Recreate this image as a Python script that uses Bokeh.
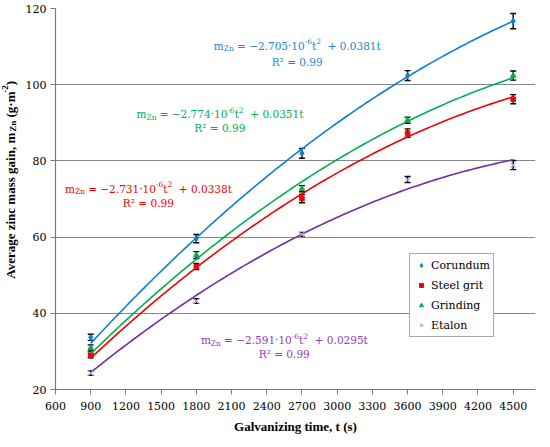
import math
import numpy as np
from bokeh.plotting import figure
from bokeh.layouts import row
from bokeh.models import (Label, Whisker, TeeHead, ColumnDataSource, Legend,
                          LegendItem, FixedTicker, Range1d)
from bokeh.embed import file_html
from bokeh.resources import INLINE

# ---------------- data ----------------
times = [900, 1800, 2700, 3600, 4500]
corundum = [33.7, 59.6, 82.0, 102.4, 116.7]
corundum_err = [0.8, 1.1, 1.3, 1.3, 2.0]
steel_grit = [28.9, 52.3, 70.1, 87.3, 96.2]
steel_grit_err = [0.6, 0.8, 1.1, 1.1, 1.2]
grinding = [30.9, 55.3, 72.7, 90.7, 102.4]
grinding_err = [0.8, 0.9, 0.8, 0.8, 1.2]
etalon = [24.3, 43.2, 60.7, 75.1, 78.9]
etalon_err = [0.6, 0.6, 0.5, 0.8, 1.2]

series_names = ["Corundum", "Steel grit", "Grinding", "Etalon"]
# trendline coefficients shown on the chart: m = a*t^2 + b*t
fit_a = [-2.705e-6, -2.731e-6, -2.774e-6, -2.591e-6]
fit_b = [0.0381, 0.0338, 0.0351, 0.0295]
coef_a_text = ["2.705", "2.731", "2.774", "2.591"]
coef_b_text = ["0.0381", "0.0338", "0.0351", "0.0295"]
r2_text = "0.99"
fit_t_range = [900, 4500]

x_ticks = [600, 900, 1200, 1500, 1800, 2100, 2400, 2700, 3000, 3300, 3600, 3900, 4200, 4500]
y_ticks = [20, 40, 60, 80, 100, 120]
x_label = "Galvanizing time, t (s)"

values = [corundum, steel_grit, grinding, etalon]
errors = [corundum_err, steel_grit_err, grinding_err, etalon_err]

# ---------------- styles ----------------
FONT_REG = "DejaVu Serif"        # regular serif face available in the sandbox
FONT_BOLD = "Liberation Serif"   # bold Times-like face
line_colors = ["#0E7DD6", "#F00000", "#00B050", "#7030A0"]
marker_colors = ["#0E7DD6", "#F00000", "#00B050", "#B8A6DA"]
text_colors = ["#1A84D8", "#F00000", "#00B050", "#8E3CBE"]
markers = ["diamond", "square", "triangle", "x"]
marker_sizes = [6, 4.5, 5.5, 7]

# label anchors (data x centre, baseline y of equation, baseline y of R²)
eq_x = [2660, 1392, 2001, 2550]
eq_y = [110.2, 72.7, 92.3, 32.9]
r2_y = [105.9, 69.0, 88.7, 29.25]

W_REG = {' ': 318, 'm': 948, 'Z': 675, 'n': 645, '=': 838, '−': 838, '.': 318,
         '·': 318, 't': 401, '+': 838, 'R': 771, '-': 338, '²': 401}
W_BOLD = {'A': 722, 'v': 500, 'e': 444, 'r': 444, 'a': 500, 'g': 500, ' ': 250,
          'z': 444, 'i': 278, 'n': 556, 'c': 444, 'm': 833, 's': 389, ',': 250,
          'Z': 667, '(': 333, ')': 333, '·': 250, '−': 570, '-': 333, 'G': 778,
          'l': 278, 't': 333}


def text_w(t, size, bold=False):
    table = W_BOLD if bold else W_REG
    default = 500 if bold else 636
    return sum(table.get(c, default) for c in t) * size / 1000.0


def add_rich(p, segs, x, y, color, bold=False, rotated=False):
    font = FONT_BOLD if bold else FONT_REG
    total = sum(text_w(t, s, bold) for t, s, _ in segs)
    off = -total / 2.0
    for t, s, shift in segs:
        lead = len(t) - len(t.lstrip(' '))
        core = t.strip(' ')
        d = off + lead * text_w(' ', s, bold)
        kw = dict(x=x, y=y, text=core,
                  text_font=font, text_font_size=f"{s}px", text_color=color,
                  text_font_style="bold" if bold else "normal",
                  text_align="left", text_baseline="alphabetic")
        if rotated:
            kw.update(angle=math.pi / 2, x_offset=-shift, y_offset=d)
        else:
            kw.update(x_offset=d, y_offset=shift)
        p.add_layout(Label(**kw))
        off += text_w(t, s, bold)


# ---- narrow panel holding the rotated y-axis title ----
LAB_W, H = 22, 436
ylab_fig = figure(width=LAB_W, height=H, output_backend="svg", toolbar_location=None,
                  x_range=Range1d(0, LAB_W), y_range=Range1d(0, H),
                  x_axis_type=None, y_axis_type=None, min_border=0)
ylab_fig.outline_line_color = None
ylab_fig.grid.visible = False
ylab = [("Average zinc mass gain, m", 13, 0), ("Zn", 9, -3), (" (g·m", 13, 0),
        ("-2", 9, 5), (")", 13, 0)]
add_rich(ylab_fig, ylab, 9.5, 240, "black", bold=True, rotated=True)

# ---- main chart ----
p = figure(width=540 - LAB_W, height=H, output_backend="svg", toolbar_location=None,
           x_range=Range1d(600, 4690), y_range=Range1d(20, 120),
           min_border_left=29, min_border_right=5, min_border_top=8,
           min_border_bottom=47)
p.outline_line_color = None
p.background_fill_color = "white"
p.xgrid.visible = False
p.ygrid.grid_line_color = "#878787"
p.ygrid.grid_line_width = 1.2
p.xaxis.ticker = FixedTicker(ticks=x_ticks)
p.yaxis.ticker = FixedTicker(ticks=y_ticks)
for ax in (p.xaxis[0], p.yaxis[0]):
    ax.axis_line_color = "#7a7a7a"
    ax.axis_line_width = 1.2
    ax.major_tick_line_color = "#7a7a7a"
    ax.major_tick_out = 5
    ax.major_tick_in = 0
    ax.minor_tick_line_color = None
    ax.major_label_text_font = FONT_REG
    ax.major_label_text_font_size = "11px"
    ax.major_label_text_color = "black"
p.xaxis.major_label_standoff = 7
p.yaxis.major_label_standoff = 4
p.xaxis.axis_label = x_label
p.xaxis.axis_label_text_font = FONT_BOLD
p.xaxis.axis_label_text_font_size = "13px"
p.xaxis.axis_label_text_font_style = "bold"
p.xaxis.axis_label_text_color = "black"
p.xaxis.axis_label_standoff = 6

t_fit = np.linspace(fit_t_range[0], fit_t_range[1], 120)
legend_items = []
for i, name in enumerate(series_names):
    m_fit = fit_a[i] * t_fit ** 2 + fit_b[i] * t_fit
    p.line(t_fit, m_fit, line_color=line_colors[i], line_width=1.6)
    src = ColumnDataSource(dict(t=times, m=values[i],
                                lo=[v - e for v, e in zip(values[i], errors[i])],
                                hi=[v + e for v, e in zip(values[i], errors[i])]))
    if markers[i] == "x":
        r = p.scatter("t", "m", source=src, marker="x", size=marker_sizes[i],
                      line_color=marker_colors[i], line_width=1.2)
    else:
        r = p.scatter("t", "m", source=src, marker=markers[i], size=marker_sizes[i],
                      fill_color=marker_colors[i], line_color=marker_colors[i])
    legend_items.append(LegendItem(label=name, renderers=[r]))
    w = Whisker(source=src, base="t", upper="hi", lower="lo", dimension="height",
                line_color="black", line_width=1.4,
                upper_head=TeeHead(size=6, line_color="black", line_width=1.4),
                lower_head=TeeHead(size=6, line_color="black", line_width=1.4))
    p.add_layout(w)

for i in range(4):
    segs = [("m", 10.5, 0), ("Zn", 7.5, -3), (" = −" + coef_a_text[i] + "·10", 10.5, 0),
            ("-6", 7.5, 4.5), ("t", 10.5, 0), ("2", 7.5, 4.5),
            ("  + " + coef_b_text[i] + "t", 10.5, 0)]
    add_rich(p, segs, eq_x[i], eq_y[i], text_colors[i])
    add_rich(p, [("R² = " + r2_text, 10.5, 0)], eq_x[i], r2_y[i], text_colors[i])

legend = Legend(items=legend_items, location=(354, 52), padding=3, spacing=4,
                glyph_width=16, glyph_height=10, label_height=16, label_standoff=2,
                label_text_font=FONT_REG, label_text_font_size="11px",
                label_text_color="black", border_line_color="#555555",
                border_line_width=1, background_fill_color="white",
                background_fill_alpha=1.0, margin=0)
p.add_layout(legend)

layout = row(ylab_fig, p, spacing=0)
open("out.html", "w").write(file_html(layout, INLINE))
